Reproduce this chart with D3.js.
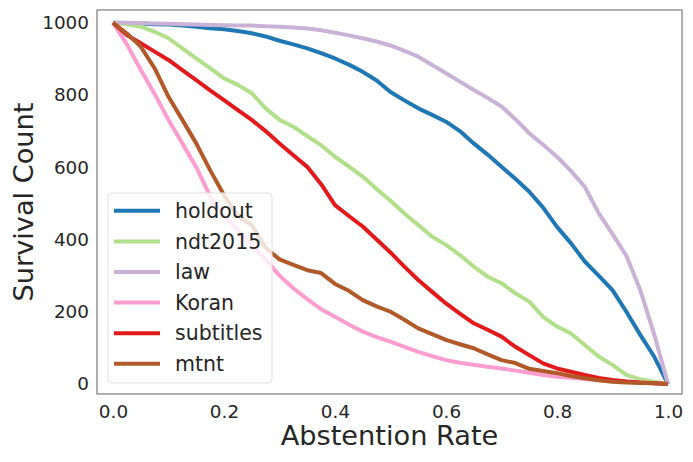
<!DOCTYPE html>
<html>
<head>
<meta charset="utf-8">
<script src="https://cdn.jsdelivr.net/npm/d3@7"></script>
<style>
  html, body { margin: 0; padding: 0; background: #fff; }
  svg { display: block; }
  svg text { font-family: "DejaVu Sans", sans-serif; fill: #262626; }
</style>
</head>
<body>
<div id="chart"></div>
<script>
// abstention rate grid (step 0.025)
const abstention = d3.range(41).map(i => i / 40);

const holdout = [1000, 999, 998, 996, 995, 992, 989, 985, 982, 977, 971, 962, 950, 940, 929, 916, 901, 884, 864, 840,
  808, 785, 763, 745, 726, 700, 666, 635, 601, 568, 532, 488, 435, 390, 339, 300, 260, 200, 136, 76, 0];
const ndt2015 = [1000, 996, 989, 975, 957, 929, 901, 874, 846, 828, 805, 763, 731, 712, 686, 661, 629, 602, 574, 540,
  507, 472, 440, 408, 385, 357, 325, 297, 279, 251, 228, 186, 159, 140, 108, 76, 53, 25, 13, 6, 0];
const law = [1000, 1000, 999, 998, 997, 996, 995, 994, 993, 992, 992, 990, 989, 987, 984, 979, 972, 965, 957, 948,
  937, 922, 906, 883, 860, 837, 814, 792, 768, 733, 694, 662, 629, 590, 546, 473, 415, 355, 260, 138, 0];
const koran = [1000, 940, 870, 803, 731, 666, 600, 520, 465, 425, 385, 345, 300, 265, 235, 207, 186, 165, 145, 130,
  117, 103, 89, 77, 66, 59, 53, 48, 43, 37, 31, 25, 20, 17, 14, 11, 8, 6, 4, 2, 0];
const subtitles = [1000, 966, 943, 920, 897, 869, 841, 813, 786, 758, 731, 700, 666, 633, 601, 553, 495, 465, 436, 400,
  364, 325, 288, 255, 223, 195, 168, 150, 131, 103, 80, 57, 43, 34, 25, 17, 11, 7, 4, 2, 0];
const mtnt = [1000, 970, 934, 874, 795, 731, 666, 592, 523, 465, 440, 377, 345, 330, 315, 307, 277, 258, 232, 215,
  200, 178, 154, 138, 122, 110, 99, 82, 66, 58, 42, 36, 30, 22, 16, 10, 6, 4, 3, 2, 0];

const seriesNames = ["holdout", "ndt2015", "law", "Koran", "subtitles", "mtnt"];
const seriesValues = [holdout, ndt2015, law, koran, subtitles, mtnt];
const seriesColors = ["#1f78b4", "#b2df8a", "#cab2d6", "#fc9dcf", "#e31a1c", "#b15928"];

const xTicks = [0, 0.2, 0.4, 0.6, 0.8, 1.0];
const yTicks = [0, 200, 400, 600, 800, 1000];

const width = 693, height = 462;
const plot = { left: 97, top: 10, right: 682, bottom: 394 };

const svg = d3.select("#chart").append("svg")
  .attr("width", width)
  .attr("height", height);

const x = d3.scaleLinear().domain([-0.0288, 1.0252]).range([plot.left, plot.right]);
const y = d3.scaleLinear().domain([-27.7, 1035.2]).range([plot.bottom, plot.top]);

// ---------- axes (labels only, no tick marks) ----------
const xAxis = svg.append("g")
  .attr("transform", `translate(0,${plot.bottom})`)
  .call(d3.axisBottom(x).tickValues(xTicks).tickFormat(d3.format(".1f")).tickSize(0));
xAxis.attr("font-family", null).attr("font-size", null);
xAxis.select(".domain").remove();
xAxis.selectAll("text")
  .attr("y", 23.6)
  .attr("dy", null)
  .style("font-size", "18.4px");

const yAxis = svg.append("g")
  .attr("transform", `translate(${plot.left},0)`)
  .call(d3.axisLeft(y).tickValues(yTicks).tickFormat(d3.format("d")).tickSize(0).tickPadding(8));
yAxis.attr("font-family", null).attr("font-size", null);
yAxis.select(".domain").remove();
yAxis.selectAll("text")
  .style("font-size", "18.4px");

// ---------- lines ----------
const line = d3.line()
  .x((d, i) => x(abstention[i]))
  .y(d => y(d));

const gLines = svg.append("g");
seriesValues.forEach((vals, k) => {
  gLines.append("path")
    .datum(vals)
    .attr("d", line)
    .attr("fill", "none")
    .attr("stroke", seriesColors[k])
    .attr("stroke-width", 4)
    .attr("stroke-linejoin", "round")
    .attr("stroke-linecap", "butt");
});

// ---------- frame ----------
svg.append("rect")
  .attr("x", plot.left)
  .attr("y", plot.top)
  .attr("width", plot.right - plot.left)
  .attr("height", plot.bottom - plot.top)
  .attr("fill", "none")
  .attr("stroke", "#808080")
  .attr("stroke-width", 1.25);

// ---------- axis titles ----------
svg.append("text")
  .attr("x", (plot.left + plot.right) / 2)
  .attr("y", 445)
  .attr("text-anchor", "middle")
  .style("font-size", "27.2px")
  .text("Abstention Rate");

svg.append("text")
  .attr("transform", `translate(33.3,${(plot.top + plot.bottom) / 2}) rotate(-90)`)
  .attr("text-anchor", "middle")
  .style("font-size", "27.2px")
  .text("Survival Count");

// ---------- legend ----------
const legend = svg.append("g");
legend.append("rect")
  .attr("x", 108)
  .attr("y", 193)
  .attr("width", 164)
  .attr("height", 190)
  .attr("rx", 4)
  .attr("fill", "rgba(255,255,255,0.8)")
  .attr("stroke", "#e0e0e0")
  .attr("stroke-width", 1);

const rowStep = 30.6;
seriesNames.forEach((name, k) => {
  const cy = 210.8 + k * rowStep;
  legend.append("line")
    .attr("x1", 114).attr("x2", 160)
    .attr("y1", cy).attr("y2", cy)
    .attr("stroke", seriesColors[k])
    .attr("stroke-width", 4);
  legend.append("text")
    .attr("x", 175)
    .attr("y", cy)
    .attr("dy", "0.35em")
    .style("font-size", "20.5px")
    .text(name);
});
</script>
</body>
</html>
